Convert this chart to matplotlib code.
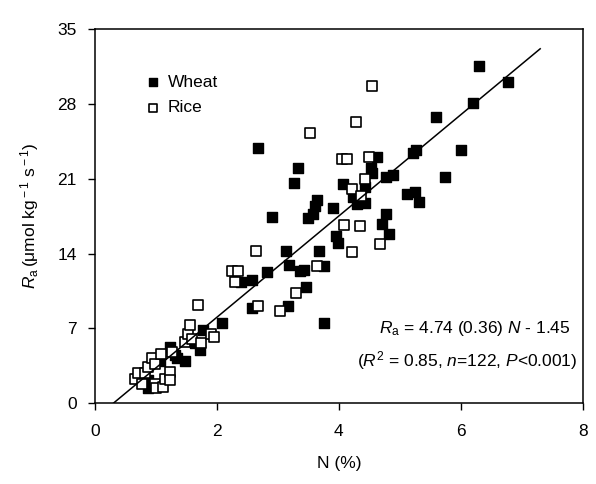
import numpy as np
import matplotlib.pyplot as plt

plt.rcParams['font.family'] = ['Liberation Sans', 'DejaVu Sans']
plt.rcParams['mathtext.fontset'] = 'custom'
plt.rcParams['mathtext.rm'] = 'Liberation Sans'
plt.rcParams['mathtext.it'] = 'Liberation Sans:italic'

# leaf N (%) and Ra for wheat
wheat_n = [0.87, 0.87, 1.07, 1.23, 1.31, 1.34, 1.48, 1.64, 1.72, 1.78, 2.08,
           2.39, 2.58, 2.58, 2.67, 2.82, 2.91, 3.13, 3.16, 3.18, 3.26, 3.33,
           3.36, 3.43, 3.47, 3.50, 3.58, 3.61, 3.64, 3.68, 3.75, 3.75, 3.90,
           3.95, 3.99, 4.07, 4.23, 4.29, 4.43, 4.43, 4.52, 4.55, 4.62, 4.70,
           4.77, 4.78, 4.82, 4.89, 5.11, 5.21, 5.25, 5.26, 5.32, 5.59, 5.74,
           6.01, 6.20, 6.30, 6.78]
wheat_ra = [1.4, 2.2, 3.9, 5.3, 4.5, 4.2, 3.9, 5.6, 5.0, 6.8, 7.5,
            11.3, 11.5, 8.9, 23.9, 12.3, 17.4, 14.2, 9.1, 12.9, 20.6, 22.0,
            12.4, 12.5, 10.9, 17.3, 17.7, 18.4, 19.0, 14.2, 12.8, 7.5, 18.3,
            15.6, 15.0, 20.5, 19.3, 18.6, 18.7, 20.2, 22.0, 21.5, 23.0, 16.8,
            21.2, 17.7, 15.8, 21.3, 19.6, 23.4, 19.8, 23.7, 18.8, 26.8, 21.2,
            23.7, 28.1, 31.5, 30.0]

# leaf N (%) and Ra for rice
rice_n = [0.66, 0.71, 0.77, 0.82, 0.87, 0.93, 0.98, 0.98, 1.01, 1.09, 1.12,
          1.15, 1.23, 1.23, 1.27, 1.48, 1.53, 1.56, 1.60, 1.69, 1.74, 1.91,
          1.95, 2.25, 2.30, 2.35, 2.65, 2.68, 3.03, 3.30, 3.52, 3.65, 4.05,
          4.08, 4.13, 4.22, 4.22, 4.28, 4.34, 4.37, 4.43, 4.49, 4.55, 4.67]
rice_ra = [2.3, 2.8, 1.8, 2.8, 3.4, 4.2, 3.7, 1.8, 1.4, 4.6, 1.5,
           2.3, 2.9, 2.2, 4.8, 5.7, 6.5, 7.3, 6.0, 9.2, 5.6, 6.5,
           6.2, 12.4, 11.3, 12.4, 14.2, 9.1, 8.6, 10.3, 25.3, 12.8, 22.8,
           16.7, 22.8, 20.0, 14.1, 26.3, 16.6, 19.4, 21.0, 23.0, 29.7, 14.9]

slope, slope_se, intercept = 4.74, 0.36, -1.45
r2, n_obs = 0.85, 122

fig = plt.figure(figsize=(5.96, 4.84), dpi=100)
ax = fig.add_axes([0.159, 0.167, 0.819, 0.773])

ax.scatter(wheat_n, wheat_ra, marker='s', s=44, facecolor='black',
           edgecolor='black', linewidth=1.0, label='Wheat', zorder=3)
ax.scatter(rice_n, rice_ra, marker='s', s=44, facecolor='white',
           edgecolor='black', linewidth=1.2, label='Rice', zorder=3)

fit_x = np.array([0.3, 7.3])
ax.plot(fit_x, slope * fit_x + intercept, color='black', lw=1.1, zorder=4)

ax.set_xlim(0, 8)
ax.set_ylim(0, 35)
ax.set_xticks([0, 2, 4, 6, 8])
ax.set_yticks([0, 7, 14, 21, 28, 35])
ax.tick_params(direction='out', length=5, width=1.0, labelsize=12.5,
               top=False, right=False)
ax.tick_params(axis='x', pad=10)
ax.tick_params(axis='y', pad=8)
for sp in ax.spines.values():
    sp.set_linewidth(1.1)

ax.set_xlabel('N (%)', fontsize=12.5, labelpad=12)
ax.set_ylabel(r'$R_{\rm a}\,$(μmol kg$^{\rm -1}$ s$^{\rm -1}$)', fontsize=12.5,
              labelpad=12)

ax.legend(loc='upper left', bbox_to_anchor=(0.07, 0.92), frameon=False,
          fontsize=12.5, handletextpad=0.35, labelspacing=0.6,
          handlelength=1.0, markerscale=0.8)

ax.text(0.975, 0.20,
        r'$R_{\rm a}$ = %.2f (%.2f) $N$ - %.2f' % (slope, slope_se, -intercept),
        transform=ax.transAxes, ha='right', va='center', fontsize=12.5)
ax.text(0.988, 0.115,
        r'($R^{2}$ = %.2f, $n$=%d, $P$<0.001)' % (r2, n_obs),
        transform=ax.transAxes, ha='right', va='center', fontsize=12.5)

fig.savefig('out.png', dpi=100)
